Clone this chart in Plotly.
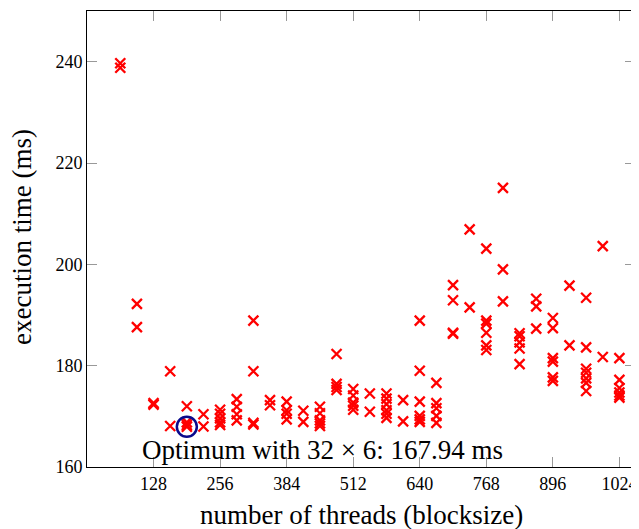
import plotly.graph_objects as go

# blocksize (threads) for each column of measurements
cols = [64, 96, 128, 160, 192, 224, 256, 288, 320, 352, 384, 416, 448, 480, 512,
        544, 576, 608, 640, 672, 704, 736, 768, 800, 832, 864, 896, 928, 960, 992, 1024]
# execution times (ms) per column
times = [
    [239.7, 238.8],
    [192.2, 187.6],
    [172.6, 172.3],
    [178.9, 168.1],
    [172.0, 168.8, 168.3, 167.94],
    [170.4, 168.0],
    [171.3, 170.5, 169.6, 168.8, 168.3],
    [173.4, 171.9, 170.4, 169.2],
    [188.9, 178.9, 168.7, 168.4],
    [173.2, 172.2],
    [172.9, 171.2, 170.5, 169.4],
    [171.1, 168.9],
    [171.9, 170.6, 169.2, 168.6, 168.1],
    [182.3, 176.4, 175.8, 175.2],
    [175.4, 174.1, 172.7, 172.1, 171.3],
    [174.5, 170.9],
    [174.5, 173.5, 172.4, 171.2, 170.5, 169.7],
    [173.2, 169.0],
    [188.9, 179.0, 172.9, 170.1, 169.4, 168.9],
    [176.6, 172.6, 171.6, 170.1, 168.7],
    [195.9, 192.9, 186.5, 186.3],
    [206.9, 191.5],
    [203.1, 188.9, 188.3, 186.5, 184.0, 183.1],
    [215.1, 199.0, 192.7],
    [186.4, 185.8, 184.6, 183.4, 180.3],
    [193.2, 191.7, 187.3],
    [189.4, 187.4, 181.5, 180.8, 177.7, 177.0],
    [195.8, 184.0],
    [193.4, 183.6, 179.4, 178.6, 177.5, 176.6, 175.0],
    [203.6, 181.7],
    [181.5, 177.2, 175.6, 174.7, 174.1, 173.7],
]
opt_x = [192]
opt_y = [167.94]
opt_label = "Optimum with 32 × 6: 167.94 ms"
x_ticks = [128, 256, 384, 512, 640, 768, 896, 1024]
y_ticks = [160, 180, 200, 220, 240]

xs, ys = [], []
for c, ts in zip(cols, times):
    for t in ts:
        xs.append(c)
        ys.append(t)

SERIF = "Liberation Serif, Times New Roman, serif"

fig = go.Figure()
fig.add_trace(go.Scatter(
    x=xs, y=ys, mode="markers",
    marker=dict(symbol="x-thin-open", size=10, color="#ff0000",
                line=dict(color="#ff0000", width=2.3)),
    showlegend=False, hoverinfo="skip"))
fig.add_trace(go.Scatter(
    x=opt_x, y=opt_y, mode="markers",
    marker=dict(symbol="circle-open", size=20, color="#0a0a8c",
                line=dict(color="#0a0a8c", width=2.5)),
    showlegend=False, hoverinfo="skip"))

fig.add_annotation(x=102, y=163.4, xref="x", yref="y", text=opt_label,
                   showarrow=False, xanchor="left", yanchor="middle",
                   font=dict(family=SERIF, size=27, color="black"))
fig.add_annotation(x=0.5, y=-0.105, xref="paper", yref="paper",
                   text="number of threads (blocksize)", showarrow=False,
                   xanchor="center", yanchor="middle",
                   font=dict(family=SERIF, size=27, color="black"))
fig.add_annotation(x=-0.119, y=0.504, xref="paper", yref="paper",
                   text="execution time (ms)", showarrow=False, textangle=-90,
                   xanchor="center", yanchor="middle",
                   font=dict(family=SERIF, size=27, color="black"))

axis_common = dict(showgrid=False, zeroline=False, showline=True, linecolor="black",
                   linewidth=1, mirror="ticks", ticks="inside", ticklen=10,
                   tickcolor="#999999", tickwidth=1, ticklabeloverflow="allow",
                   tickfont=dict(family=SERIF, size=18, color="black"))
fig.update_xaxes(range=[0, 1054], tickvals=x_ticks, ticktext=[str(v) for v in x_ticks],
                 **axis_common)
fig.update_yaxes(range=[160, 250], tickvals=y_ticks, ticktext=[str(v) for v in y_ticks],
                 **axis_common)

# page body has an 8px margin, so the figure is drawn 8px smaller and offset
fig.update_layout(width=631, height=521, margin=dict(l=79, r=2, t=3, b=62),
                  plot_bgcolor="white", paper_bgcolor="white")
fig.write_html("out.html")
